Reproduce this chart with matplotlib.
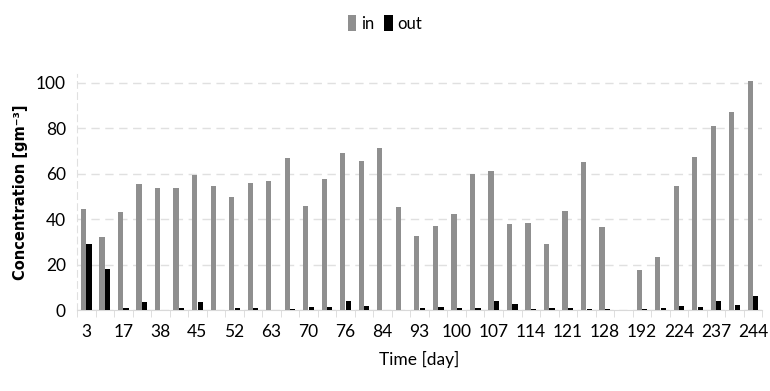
import numpy as np
import matplotlib
matplotlib.use("Agg")
import matplotlib.pyplot as plt
from matplotlib.ticker import FixedLocator, NullFormatter

plt.rcParams["font.family"] = ["Lato", "DejaVu Sans"]

# ===================== DATA =====================
day_labels = ["3", "", "17", "", "38", "", "45", "", "52", "", "63", "", "70", "",
              "76", "", "84", "", "93", "", "100", "", "107", "", "114", "", "121", "",
              "128", "", "192", "", "224", "", "237", "", "244"]

conc_in = [44.4, 32.1, 43.3, 55.6, 53.7, 53.7, 59.6, 54.5, 49.8, 55.9, 57.0, 67.1,
           46.0, 57.8, 69.3, 65.7, 71.2, 45.5, 32.4, 37.2, 42.5, 59.7, 61.3, 37.8,
           38.5, 29.3, 43.8, 65.0, 36.6, 0.0, 17.6, 23.3, 54.8, 67.3, 81.0, 87.3, 101.0]

conc_out = [29.3, 18.3, 1.0, 3.4, 0.0, 0.7, 3.7, 0.0, 1.0, 0.9, 0.0, 0.4,
            1.5, 1.5, 3.8, 2.0, 0.0, 0.0, 0.7, 1.3, 0.7, 0.7, 4.2, 2.5,
            0.3, 0.7, 1.0, 0.3, 0.3, 0.0, 0.3, 1.0, 1.6, 1.5, 3.8, 2.2, 6.4]

# ===================== PLOT =====================
fig = plt.figure(figsize=(7.7, 3.91), dpi=100)
ax = fig.add_axes([0.1, 0.207, 0.89, 0.604])

x = np.arange(len(day_labels))
w = 0.28
ax.bar(x - 0.15, conc_in, width=w, color="#8f8f8f", label="in", zorder=3)
ax.bar(x + 0.15, conc_out, width=w, color="#000000", label="out", zorder=3)

ax.set_xlim(-0.5, len(day_labels) - 0.5)
ax.set_ylim(0, 104)
ax.set_yticks(range(0, 101, 20))

# labels at category centres, tick marks at the category boundaries
ax.set_xticks(x)
ax.set_xticklabels(day_labels, fontsize=12.5)
ax.tick_params(axis="x", which="major", length=0, pad=10)
ax.xaxis.set_minor_locator(FixedLocator(np.arange(-0.5, len(day_labels), 1.0)))
ax.xaxis.set_minor_formatter(NullFormatter())
ax.tick_params(axis="x", which="minor", length=5, color="#d9d9d9")
ax.tick_params(axis="y", length=0, labelsize=12.5, pad=8)

ax.grid(axis="y", color="#e0e0e0", linestyle=(0, (6, 4)), linewidth=1, zorder=0)
for side in ["top", "right"]:
    ax.spines[side].set_visible(False)
ax.spines["bottom"].set_color("#d9d9d9")
ax.spines["left"].set_color("#e0e0e0")
ax.spines["left"].set_linestyle((0, (6, 4)))

ax.set_ylabel("Concentration [gm⁻³]", fontsize=10.5, fontweight="bold",
              family="DejaVu Sans", va="center")
ax.yaxis.set_label_coords(-0.083, 0.5)
ax.set_xlabel("Time [day]", fontsize=12.5, labelpad=8)

fig.legend(loc="upper center", bbox_to_anchor=(0.5, 1.0), ncol=2, frameon=False,
           fontsize=12, handlelength=0.5, handleheight=1.1, handletextpad=0.3,
           columnspacing=0.6)

fig.savefig("out.png", dpi=100)
